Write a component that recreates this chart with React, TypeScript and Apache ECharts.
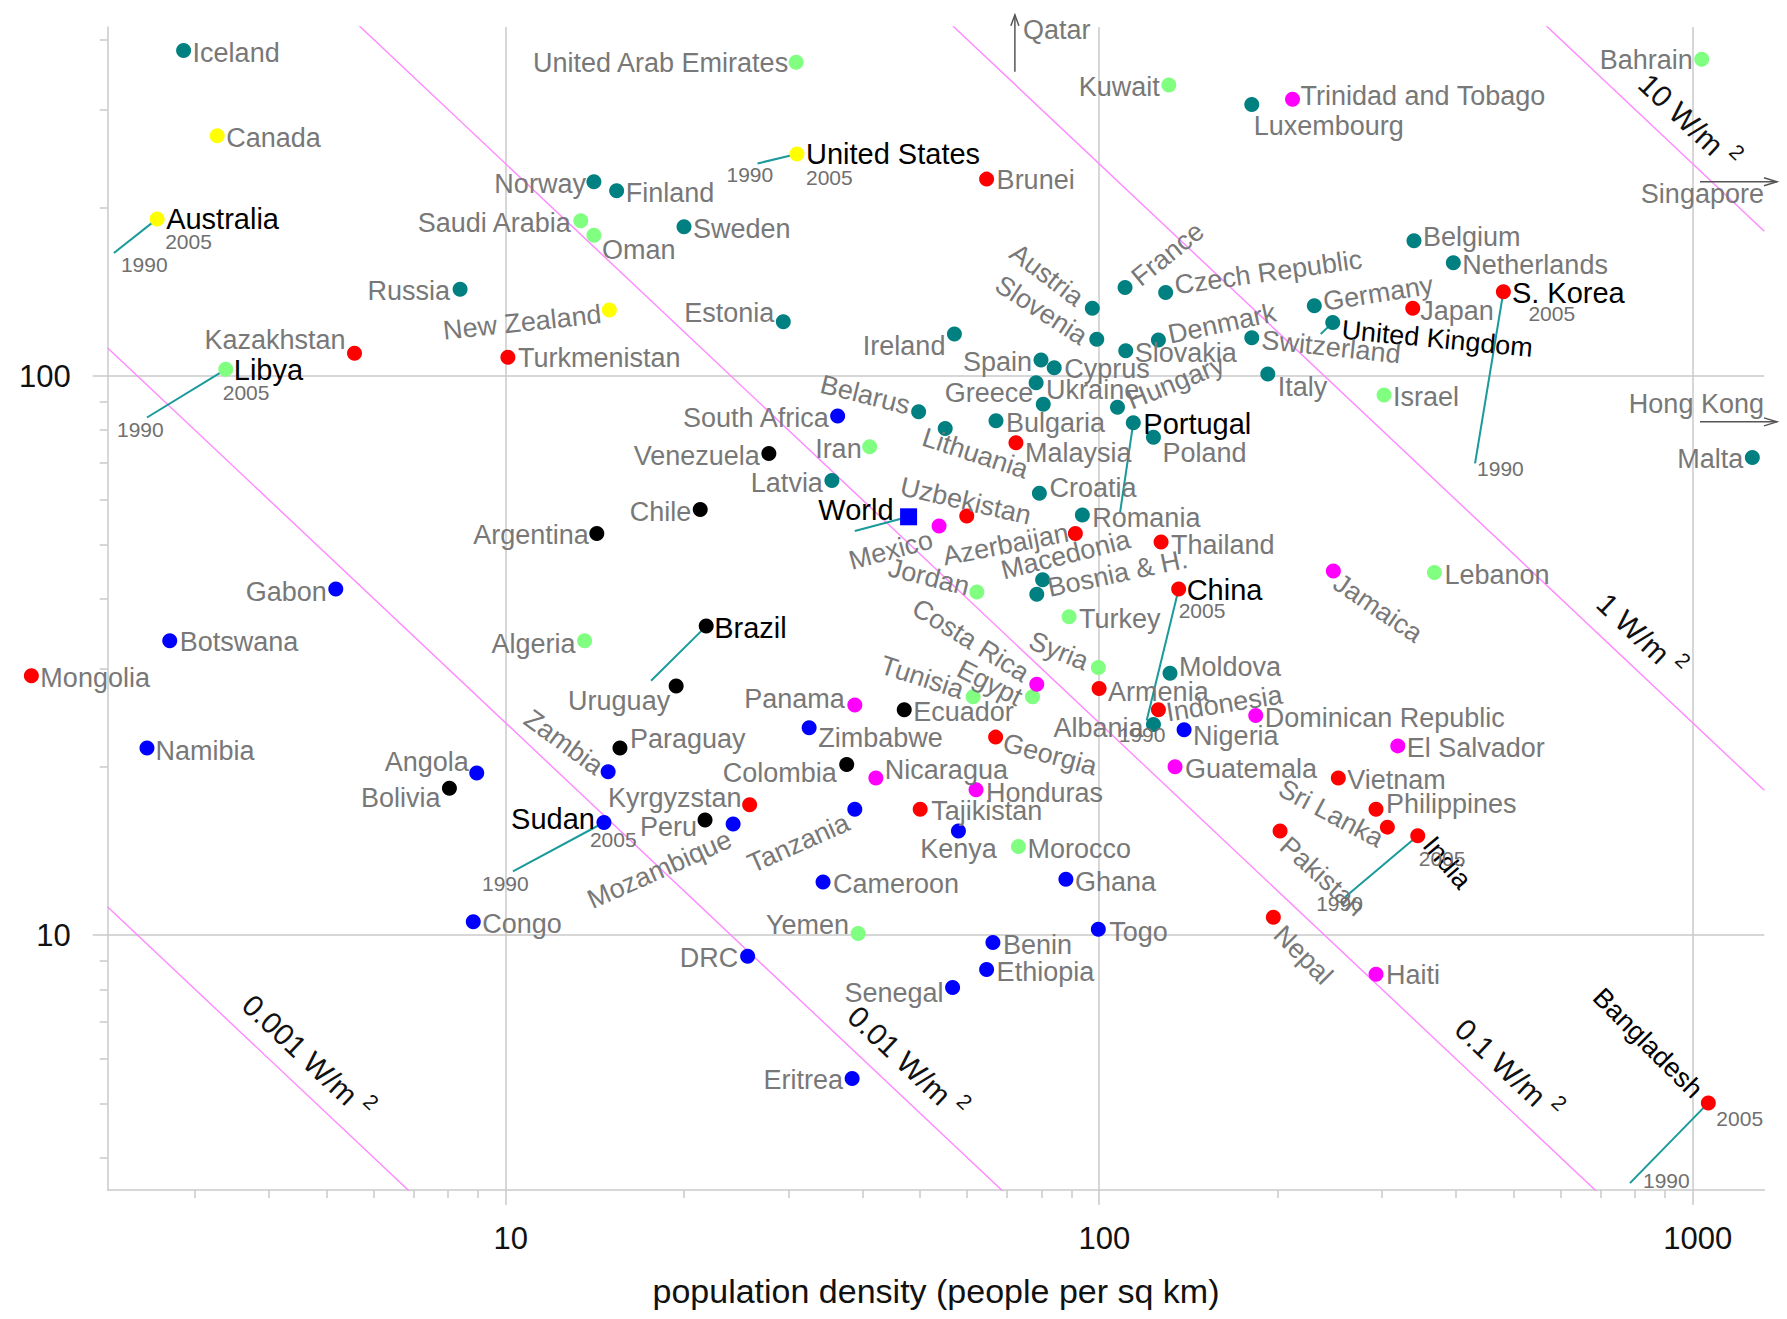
import React, { useEffect, useRef } from "react";
import * as echarts from "echarts";

type Country = [string, number, number];

// [name, population density (people per sq km), power consumption per person (kWh/d)]
const europe: Country[] = [
  ["Iceland", 2.87, 382], ["Luxembourg", 181, 306], ["Norway", 14.1, 222.6], ["Finland", 15.4, 214.5],
  ["Sweden", 20.0, 185], ["Russia", 8.39, 143], ["Estonia", 29.4, 125.1], ["Belgium", 339.6, 174.6],
  ["Netherlands", 395.6, 159.5], ["Austria", 97.5, 132.2], ["France", 110.7, 144], ["Czech Republic", 129.6, 141.1],
  ["Germany", 230.7, 133.5], ["United Kingdom", 247.8, 124.6], ["Switzerland", 181, 117.1], ["Slovenia", 99.2, 116.3],
  ["Denmark", 126, 116], ["Slovakia", 111, 111], ["Ireland", 57.1, 118.9], ["Spain", 79.9, 106.8],
  ["Cyprus", 84.1, 103.5], ["Italy", 192.6, 100.8], ["Ukraine", 78.4, 97.3], ["Greece", 80.6, 89.0],
  ["Hungary", 107.5, 87.9], ["Belarus", 49.7, 86.3], ["Bulgaria", 67.1, 83.2], ["Portugal", 114.3, 82.5],
  ["Poland", 123.6, 77.7], ["Lithuania", 55.1, 80.6], ["Latvia", 35.5, 65.0], ["Malta", 1262, 71.5],
  ["Croatia", 79.4, 61.7], ["Romania", 93.8, 56.4], ["Macedonia", 80.4, 43.2], ["Bosnia & H.", 78.6, 40.7],
  ["Moldova", 131.8, 29.4], ["Albania", 123.6, 23.8],
];
const northAmericaOceania: Country[] = [
  ["Canada", 3.27, 269], ["United States", 31.0, 249.5], ["Australia", 2.59, 191], ["New Zealand", 14.97, 131.2],
];
const middleEastNorthAfrica: Country[] = [
  ["United Arab Emirates", 30.9, 364], ["Kuwait", 131.2, 331.6], ["Bahrain", 1037, 368.6], ["Saudi Arabia", 13.4, 189.6],
  ["Oman", 14.1, 178.5], ["Libya", 3.38, 102.8], ["Iran", 41.1, 74.7], ["Israel", 302.4, 92.5],
  ["Jordan", 62.3, 41.1], ["Lebanon", 367.6, 44.5], ["Turkey", 89.1, 37.1], ["Algeria", 13.6, 33.6],
  ["Syria", 99.8, 30.1], ["Tunisia", 61.4, 26.7], ["Egypt", 77.3, 26.7], ["Morocco", 73.2, 14.4], ["Yemen", 39.3, 10.07],
];
const asia: Country[] = [
  ["Brunei", 64.7, 225], ["Japan", 338, 132.2], ["S. Korea", 480.4, 141.5], ["Kazakhstan", 5.57, 109.8],
  ["Turkmenistan", 10.1, 108], ["Malaysia", 72.5, 76], ["Uzbekistan", 59.9, 56.2], ["Azerbaijan", 91.3, 52.3],
  ["Thailand", 127.3, 50.5], ["China", 136.3, 41.6], ["Mongolia", 1.59, 29.1], ["Armenia", 100.1, 27.6],
  ["Indonesia", 126, 25.3], ["Georgia", 67.0, 22.6], ["Vietnam", 253.2, 19.1], ["Kyrgyzstan", 25.8, 17.1],
  ["Philippines", 293.1, 16.8], ["Tajikistan", 50.0, 16.8], ["Sri Lanka", 306.3, 15.6], ["India", 344.6, 15.05],
  ["Pakistan", 202, 15.35], ["Nepal", 196.8, 10.76], ["Bangladesh", 1064, 5.01],
];
const subSaharanAfrica: Country[] = [
  ["South Africa", 36.3, 84.8], ["Gabon", 5.18, 41.6], ["Botswana", 2.72, 33.6], ["Namibia", 2.49, 21.6],
  ["Angola", 8.95, 19.5], ["Zimbabwe", 32.5, 23.5], ["Zambia", 14.9, 19.6], ["Sudan", 14.66, 15.9],
  ["Mozambique", 24.2, 15.8], ["Tanzania", 38.8, 16.8], ["Nigeria", 139.2, 23.3], ["Kenya", 58.0, 15.35],
  ["Cameroon", 34.3, 12.45], ["Ghana", 88.0, 12.58], ["Congo", 8.83, 10.56], ["Togo", 99.8, 10.24],
  ["Benin", 66.3, 9.7], ["Ethiopia", 64.7, 8.68], ["Senegal", 56.7, 8.06], ["DRC", 25.6, 9.17], ["Eritrea", 38.4, 5.54],
];
const centralAmericaCaribbean: Country[] = [
  ["Trinidad and Tobago", 212, 312.6], ["Mexico", 53.8, 53.9], ["Jamaica", 248.4, 44.8], ["Costa Rica", 78.6, 28.1],
  ["Panama", 38.8, 25.8], ["Dominican Republic", 183.8, 24.7], ["El Salvador", 318.9, 21.8], ["Nicaragua", 42.1, 19.1],
  ["Guatemala", 134.4, 20.0], ["Honduras", 62.1, 18.2], ["Haiti", 293.1, 8.51],
];
const southAmerica: Country[] = [
  ["Venezuela", 27.8, 72.7], ["Chile", 21.3, 57.7], ["Argentina", 14.26, 52.3], ["Brazil", 21.8, 35.7],
  ["Uruguay", 19.4, 27.9], ["Paraguay", 15.6, 21.6], ["Ecuador", 47.0, 25.3], ["Colombia", 37.6, 20.2],
  ["Bolivia", 8.05, 18.3], ["Peru", 21.7, 16.06],
];
const worldAverage: Country[] = [["World", 47.8, 56.0]];
// 1990 positions (the 2005 position is the country's point)
const tracks1990: Country[] = [
  ["Australia", 2.19, 166], ["Libya", 2.49, 84.3], ["United States", 26.6, 240], ["Brazil", 17.6, 28.5],
  ["Sudan", 10.3, 13.0], ["World", 38.8, 52.8], ["China", 120.4, 24.2], ["Portugal", 108.6, 57.1],
  ["United Kingdom", 236.5, 118.9], ["S. Korea", 430.4, 69.8], ["India", 260, 11.7], ["Bangladesh", 785, 3.6],
];
// countries beyond the plotted range: start of the arrow
const offChart: Country[] = [["Qatar", 72.2, 350], ["Singapore", 1030, 222.6], ["Hong Kong", 1030, 82.8]];
// lines of constant power per unit area (W/m²)
const powerPerArea = [10, 1, 0.1, 0.01, 0.001];
const KWH_PER_DAY_PER_KM2_PER_WM2 = 24000;
const xRange = [2.138, 1322];
const yRange = [3.5, 421];
const xTickValues = [10, 100, 1000];
const yTickValues = [10, 100];
const xMinorTickValues = [3, 4, 5, 6, 7, 8, 9, 20, 30, 40, 50, 60, 70, 80, 90, 200, 300, 400, 500, 600, 700, 800, 900];
const yMinorTickValues = [4, 5, 6, 7, 8, 9, 20, 30, 40, 50, 60, 70, 80, 90, 200, 300, 400];

// ---------- styles / layout ----------
const FONT = '"Liberation Sans", Arial, Helvetica, sans-serif';
const GRAY = "#787878";
const AXIS_GRAY = "#cacaca";
const LABEL_SIZE = 27;
const regionStyles: { pts: Country[]; color: string; symbol: string; size: number }[] = [
  { pts: europe, color: "#008080", symbol: "circle", size: 15 },
  { pts: northAmericaOceania, color: "#ffff00", symbol: "circle", size: 15 },
  { pts: middleEastNorthAfrica, color: "#80ff80", symbol: "circle", size: 15 },
  { pts: asia, color: "#ff0000", symbol: "circle", size: 15 },
  { pts: subSaharanAfrica, color: "#0000ff", symbol: "circle", size: 15 },
  { pts: centralAmericaCaribbean, color: "#ff00ff", symbol: "circle", size: 15 },
  { pts: southAmerica, color: "#000000", symbol: "circle", size: 15 },
  { pts: worldAverage, color: "#0000ff", symbol: "rect", size: 17 },
];

type Lay = [string, number, number, number?, string?]; // align, dx, dy, rotation(deg, ccw), kind
const DEF: Lay = ["left", 9, 2, 0];
const LAYOUT: Record<string, Lay> = {
  Australia: ["left", 9, 0, 0, "b"], Russia: ["right", -10, 2], Kazakhstan: ["right", -9, -13],
  Libya: ["left", 8, 1, 0, "b"], "United Arab Emirates": ["right", -8, 1], "United States": ["left", 9, 0, 0, "b"],
  Norway: ["right", -8, 2], "Saudi Arabia": ["right", -10, 2], Oman: ["left", 8, 15],
  "New Zealand": ["right", -8, 4, 6], Turkmenistan: ["left", 10, 1], Estonia: ["right", -9, -9],
  Ireland: ["right", -9, 12], "South Africa": ["right", -9, 1.5], Belarus: ["right", -9, -6, -14],
  Iran: ["right", -8, 2], Venezuela: ["right", -9, 2.5], Latvia: ["right", -9, 2], Chile: ["right", -9, 2],
  Argentina: ["right", -8, 2], World: ["right", -15, -7, 0, "b"], Mexico: ["right", -7, 13, 15],
  Uzbekistan: ["center", -1, -15, -13], Croatia: ["left", 10, -5], Romania: ["left", 10, 3],
  Azerbaijan: ["right", -7, -1, 11], Thailand: ["left", 10, 3], Macedonia: ["center", 23, -25, 14],
  "Bosnia & H.": ["left", 11, -6, 12], Jordan: ["right", -8, -5, -14], China: ["left", 8, 1, 0, "b"],
  Turkey: ["left", 10, 2], "Costa Rica": ["right", -10, -9, -32], Egypt: ["right", -12, 2, -27],
  Tunisia: ["right", -10, -6, -18], Syria: ["right", -11, -5, -22], Moldova: ["left", 9, -6],
  Armenia: ["left", 9, 3], Indonesia: ["left", 8, 3, 9], Albania: ["right", -10, 3], Nigeria: ["left", 9, 6],
  Georgia: ["left", 8, 5, -15], Guatemala: ["left", 10, 2.5], Nicaragua: ["left", 9, -8], Honduras: ["left", 10, 3],
  Tajikistan: ["left", 11, 2], Kenya: ["center", 0, 18], Ghana: ["left", 9, 3], Cameroon: ["left", 10, 2.5],
  Togo: ["left", 11, 2.5], Benin: ["left", 10, 3], Ethiopia: ["left", 10, 2.5], Senegal: ["right", -9, 6],
  Yemen: ["right", -9, -8], DRC: ["right", -9.5, 2], Eritrea: ["right", -9, 1.5], Haiti: ["left", 10, 1],
  Angola: ["right", -8, -11], Bolivia: ["right", -9, 10], Gabon: ["right", -9, 2.7], Botswana: ["left", 10, 1],
  Namibia: ["left", 8.5, 2.5], Zambia: ["right", -8, -3, -36], Mozambique: ["right", -3, 14, 24],
  Tanzania: ["right", -7, 12, 24], Sudan: ["right", -9, -4, 0, "b"], Peru: ["right", -8, 7],
  Kyrgyzstan: ["right", -8, -7], Colombia: ["right", -10, 9], Zimbabwe: ["left", 9, 10], Panama: ["right", -10, -6],
  Paraguay: ["left", 10, -9], Uruguay: ["right", -6, 15], Algeria: ["right", -9, 3.5], Brazil: ["left", 8, 2, 0, "b"],
  Lithuania: ["left", -22, 8, -18], Malaysia: ["left", 9, 10], Poland: ["left", 9, 16], Bulgaria: ["left", 10, 2.6],
  Portugal: ["left", 10, 1, 0, "b"], Greece: ["right", -10, -11], Ukraine: ["left", 10, 7], Spain: ["right", -9, 2],
  Cyprus: ["left", 10, 1], Italy: ["left", 10, 13], Hungary: ["left", 11, -6, 22], Denmark: ["left", 10, -5, 12],
  Switzerland: ["left", 10, 2, -6], "United Kingdom": ["left", 9, 7, -5.5, "k"], Germany: ["left", 9, -4, 9],
  "Czech Republic": ["left", 9, -7, 8], France: ["left", 10, -7, 39], Slovenia: ["right", -12, -1, -33],
  Austria: ["right", -12, -8, -37], Brunei: ["left", 10, 1], Kuwait: ["right", -9, 2], Luxembourg: ["left", 2, 22],
  "Trinidad and Tobago": ["left", 8, -3], Bahrain: ["right", -9, 1], Belgium: ["left", 9, -4],
  Japan: ["left", 7.5, 2.5], "S. Korea": ["left", 8.5, 1.6, 0, "b"], Malta: ["right", -9, 2],
  Lebanon: ["left", 10, 2.6], Jamaica: ["left", 3, 9, -34], Philippines: ["left", 10, -5],
  "Sri Lanka": ["right", -6, 13, -28], India: ["left", 10.6, 4.3, -50, "k"], Pakistan: ["left", 4, 10.7, -42],
  Nepal: ["left", 5, 12.7, -45], Bangladesh: ["right", -10, -9.4, -45, "k"],
};
const YEAR_LAYOUT: Record<string, { y05?: [number, number]; y90?: [number, number] }> = {
  Australia: { y05: [8, 23], y90: [7, 12] },
  Libya: { y05: [-3, 23], y90: [-30, 12] },
  "United States": { y05: [9, 23], y90: [-31, 11] },
  Sudan: { y05: [-14, 17], y90: [-31, 12] },
  China: { y05: [0, 22], y90: [-28, 14] },
  "S. Korea": { y05: [25, 22], y90: [2, 5] },
  India: { y05: [1, 23], y90: [-29, 7] },
  Bangladesh: { y05: [8, 16], y90: [13, -3] },
};
const W_LABEL_ANCHOR_X = [915, 760, 454, 44.1, 4.31];
const OFF_LAYOUT: Record<string, { dir: string; len: number; align: string; dx: number; dy: number }> = {
  Qatar: { dir: "up", len: 57, align: "left", dx: 8, dy: -42 },
  Singapore: { dir: "right", len: 77, align: "right", dx: 64, dy: 12 },
  "Hong Kong": { dir: "right", len: 77, align: "right", dx: 64, dy: -18 },
};

const lg = Math.log10;
let measureCtx: CanvasRenderingContext2D | null = null;
function textWidth(t: string, size: number) {
  if (!measureCtx) measureCtx = document.createElement("canvas").getContext("2d");
  if (!measureCtx) return t.length * size * 0.55;
  measureCtx.font = `${size}px ${FONT}`;
  return measureCtx.measureText(t).width;
}

function buildOption() {
  const allCountries: Country[] = [];
  regionStyles.forEach((r) => r.pts.forEach((p) => allCountries.push(p)));
  const byName: Record<string, Country> = {};
  allCountries.forEach((c) => (byName[c[0]] = c));

  const gridRect = { left: 107.7, top: 27, right: 22.7, bottom: 129 };
  const axisCommon = { type: "value", axisLine: { onZero: false } };

  const series: any[] = [];

  // constant power-per-area lines
  powerPerArea.forEach((w) => {
    const lc = lg(w * KWH_PER_DAY_PER_KM2_PER_WM2);
    const x0 = lg(xRange[0]);
    const x1 = lg(xRange[1]);
    series.push({
      type: "line", xAxisIndex: 0, yAxisIndex: 0, silent: true, clip: true, symbol: "none", z: 1,
      lineStyle: { color: "#ff88ff", width: 1.4 },
      data: [[x0, lc - x0], [x1, lc - x1]],
    });
  });

  // 1990 -> 2005 tracks
  tracks1990.forEach((t) => {
    const c = byName[t[0]];
    series.push({
      type: "line", xAxisIndex: 0, yAxisIndex: 0, silent: true, clip: false, symbol: "none", z: 2,
      lineStyle: { color: "#1a9a9a", width: 2 },
      data: [[lg(t[1]), lg(t[2])], [lg(c[1]), lg(c[2])]],
    });
  });

  // dots
  regionStyles.forEach((r) => {
    series.push({
      type: "scatter", xAxisIndex: 0, yAxisIndex: 0, clip: false, silent: true, z: 3,
      symbol: r.symbol, symbolSize: r.size, itemStyle: { color: r.color, opacity: 1 },
      data: r.pts.map((p) => [lg(p[1]), lg(p[2])]),
    });
  });

  // country labels
  series.push({
    type: "custom", xAxisIndex: 0, yAxisIndex: 0, clip: false, silent: true, z: 5,
    data: allCountries.map((c, i) => [lg(c[1]), lg(c[2]), i]),
    renderItem: (_p: any, api: any) => {
      const c = allCountries[api.value(2)];
      const lay = LAYOUT[c[0]] || DEF;
      const pt = api.coord([api.value(0), api.value(1)]);
      const kind = lay[4];
      return {
        type: "text", x: pt[0] + lay[1], y: pt[1] + lay[2], rotation: ((lay[3] || 0) * Math.PI) / 180,
        style: {
          text: c[0], fill: kind ? "#000" : GRAY, fontSize: kind === "b" ? 29 : kind === "k" ? 27 : LABEL_SIZE,
          fontFamily: FONT, align: lay[0], verticalAlign: "middle",
        },
      };
    },
  });

  // year labels
  const yearItems: { text: string; dx: number; dy: number }[] = [];
  const yearData: number[][] = [];
  tracks1990.forEach((t) => {
    const yl = YEAR_LAYOUT[t[0]];
    if (!yl) return;
    const c = byName[t[0]];
    if (yl.y05) { yearData.push([lg(c[1]), lg(c[2]), yearItems.length]); yearItems.push({ text: "2005", dx: yl.y05[0], dy: yl.y05[1] }); }
    if (yl.y90) { yearData.push([lg(t[1]), lg(t[2]), yearItems.length]); yearItems.push({ text: "1990", dx: yl.y90[0], dy: yl.y90[1] }); }
  });
  series.push({
    type: "custom", xAxisIndex: 0, yAxisIndex: 0, clip: false, silent: true, z: 5,
    data: yearData,
    renderItem: (_p: any, api: any) => {
      const it = yearItems[api.value(2)];
      const pt = api.coord([api.value(0), api.value(1)]);
      return {
        type: "text", x: pt[0] + it.dx, y: pt[1] + it.dy,
        style: { text: it.text, fill: "#707070", fontSize: 21, fontFamily: FONT, align: "left", verticalAlign: "middle" },
      };
    },
  });

  // W/m² labels
  series.push({
    type: "custom", xAxisIndex: 0, yAxisIndex: 0, clip: false, silent: true, z: 5,
    data: powerPerArea.map((w, i) => [w, lg(W_LABEL_ANCHOR_X[i])]),
    renderItem: (_p: any, api: any) => {
      const w = api.value(0);
      const lx = api.value(1);
      const lc = lg(w * KWH_PER_DAY_PER_KM2_PER_WM2);
      const p1 = api.coord([lx, lc - lx]);
      const p2 = api.coord([lx + 1, lc - lx - 1]);
      const a = Math.atan2(p2[1] - p1[1], p2[0] - p1[0]);
      const cx = p1[0] + Math.sin(a) * 28;
      const cy = p1[1] - Math.cos(a) * 28;
      const main = `${w} W/m`;
      const mw = textWidth(main, 30);
      const sw = textWidth("2", 21);
      const gap = 9;
      const total = mw + gap + sw;
      return {
        type: "group", x: cx, y: cy, rotation: -a,
        children: [
          { type: "text", x: -total / 2, y: 0, style: { text: main, fill: "#111", fontSize: 30, fontFamily: FONT, align: "left", verticalAlign: "middle" } },
          { type: "text", x: -total / 2 + mw + gap, y: -11, style: { text: "2", fill: "#111", fontSize: 21, fontFamily: FONT, align: "left", verticalAlign: "middle" } },
        ],
      };
    },
  });

  // off-chart countries (arrows)
  series.push({
    type: "custom", xAxisIndex: 0, yAxisIndex: 0, clip: false, silent: true, z: 5,
    data: offChart.map((o, i) => [lg(o[1]), lg(o[2]), i]),
    renderItem: (_p: any, api: any) => {
      const o = offChart[api.value(2)];
      const lay = OFF_LAYOUT[o[0]];
      const pt = api.coord([api.value(0), api.value(1)]);
      const tip = lay.dir === "up" ? [pt[0], pt[1] - lay.len] : [pt[0] + lay.len, pt[1]];
      const head = lay.dir === "up"
        ? [[tip[0] - 4, tip[1] + 11], tip, [tip[0] + 4, tip[1] + 11]]
        : [[tip[0] - 13, tip[1] - 4], tip, [tip[0] - 13, tip[1] + 4]];
      return {
        type: "group",
        children: [
          { type: "line", shape: { x1: pt[0], y1: pt[1], x2: tip[0], y2: tip[1] }, style: { stroke: "#555", lineWidth: 1.5 } },
          { type: "polyline", shape: { points: head }, style: { stroke: "#555", lineWidth: 1.5, fill: "none" } },
          { type: "text", x: pt[0] + lay.dx, y: pt[1] + lay.dy, style: { text: o[0], fill: GRAY, fontSize: LABEL_SIZE, fontFamily: FONT, align: lay.align, verticalAlign: "middle" } },
        ],
      };
    },
  });

  return {
    animation: false,
    backgroundColor: "#fff",
    grid: [{ ...gridRect }, { ...gridRect }],
    xAxis: [
      {
        ...axisCommon, gridIndex: 0, min: lg(xRange[0]), max: lg(xRange[1]),
        axisLine: { show: true, onZero: false, lineStyle: { color: AXIS_GRAY, width: 1.5 } },
        axisTick: { show: true, customValues: xTickValues.map(lg), length: 15, lineStyle: { color: AXIS_GRAY, width: 1.5 } },
        axisLabel: {
          show: true, customValues: xTickValues.map(lg), formatter: (v: number) => String(Math.round(Math.pow(10, v))),
          fontSize: 31, color: "#111", fontFamily: FONT, margin: 33, padding: [0, 0, 0, 11],
        },
        splitLine: { show: true, lineStyle: { color: AXIS_GRAY, width: 1.5 } },
        name: "population density (people per sq km)", nameLocation: "middle", nameGap: 84,
        nameTextStyle: { fontSize: 34, color: "#111", fontFamily: FONT },
      },
      {
        ...axisCommon, gridIndex: 1, min: lg(xRange[0]), max: lg(xRange[1]),
        axisLine: { show: false, onZero: false },
        axisTick: { show: true, customValues: xMinorTickValues.map(lg), length: 8, lineStyle: { color: AXIS_GRAY, width: 1.5 } },
        axisLabel: { show: false }, splitLine: { show: false },
      },
    ],
    yAxis: [
      {
        ...axisCommon, gridIndex: 0, min: lg(yRange[0]), max: lg(yRange[1]),
        axisLine: { show: true, onZero: false, lineStyle: { color: AXIS_GRAY, width: 1.5 } },
        axisTick: { show: true, customValues: yTickValues.map(lg), length: 15, lineStyle: { color: AXIS_GRAY, width: 1.5 } },
        axisLabel: {
          show: true, customValues: yTickValues.map(lg), formatter: (v: number) => String(Math.round(Math.pow(10, v))),
          fontSize: 31, color: "#111", fontFamily: FONT, margin: 37,
        },
        splitLine: { show: true, lineStyle: { color: AXIS_GRAY, width: 1.5 } },
      },
      {
        ...axisCommon, gridIndex: 1, min: lg(yRange[0]), max: lg(yRange[1]),
        axisLine: { show: false, onZero: false },
        axisTick: { show: true, customValues: yMinorTickValues.map(lg), length: 8, lineStyle: { color: AXIS_GRAY, width: 1.5 } },
        axisLabel: { show: false }, splitLine: { show: false },
      },
    ],
    series,
  };
}

export default function App() {
  const ref = useRef<HTMLDivElement>(null);
  useEffect(() => {
    if (!ref.current) return;
    const chart = echarts.init(ref.current, null, { renderer: "svg" });
    chart.setOption(buildOption() as any);
    return () => chart.dispose();
  }, []);
  return (
    <div
      ref={ref}
      style={{ position: "fixed", left: 0, top: 0, width: 1787, height: 1319, background: "#fff" }}
    />
  );
}
